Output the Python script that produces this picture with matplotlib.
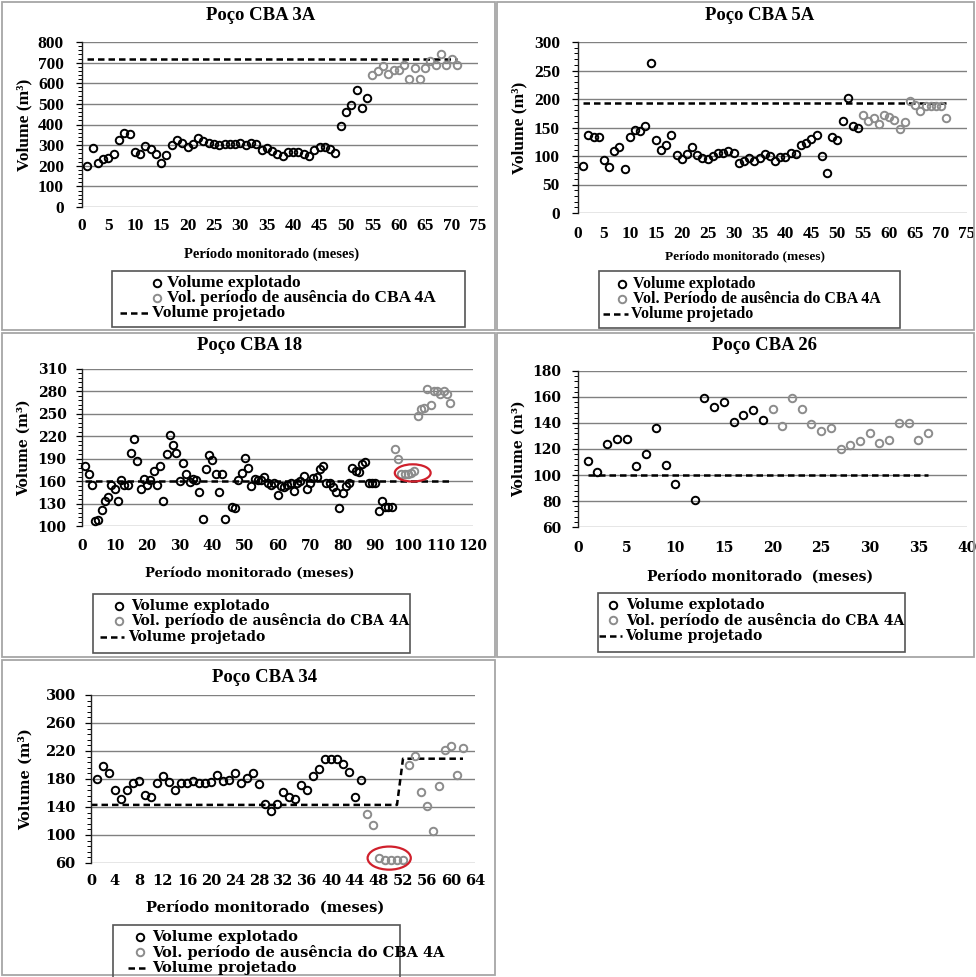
import matplotlib
matplotlib.use("Agg")
import matplotlib.pyplot as plt
from matplotlib.lines import Line2D
from matplotlib.patches import Rectangle, Ellipse
from matplotlib.ticker import FixedLocator, MultipleLocator, AutoMinorLocator

W, H = 976, 977

# ---- Poço CBA 3A ----
cba3a_months = list(range(1, 55))
cba3a_volume = [200, 288, 215, 234, 237, 258, 323, 359, 352, 267,
                258, 296, 279, 258, 215, 254, 302, 323, 310, 291,
                307, 336, 320, 312, 304, 299, 304, 307, 307, 310,
                299, 312, 307, 275, 288, 271, 255, 246, 267, 267,
                267, 258, 246, 275, 291, 291, 279, 262, 393, 460,
                493, 565, 481, 528]
cba3a_abs_months = list(range(55, 72))
cba3a_abs_volume = [641, 659, 682, 643, 666, 666, 690, 619, 675, 622,
                    675, 706, 687, 740, 687, 719, 687]
cba3a_proj_months = [1, 71]
cba3a_proj_volume = [720, 720]
cba3a_yticks = [0, 100, 200, 300, 400, 500, 600, 700, 800]
cba3a_xticks = [0, 5, 10, 15, 20, 25, 30, 35, 40, 45, 50, 55, 60, 65, 70, 75]

# ---- Poço CBA 5A ----
cba5a_months = list(range(1, 55))
cba5a_volume = [83, 137, 134, 133, 93, 80, 109, 115, 77, 134,
                146, 143, 153, 263, 128, 110, 119, 136, 102, 94,
                104, 116, 102, 97, 95, 100, 106, 105, 109, 106,
                87, 92, 97, 91, 96, 103, 100, 92, 99, 99,
                106, 103, 120, 123, 130, 136, 100, 71, 134, 128,
                162, 201, 153, 150]
cba5a_abs_months = list(range(55, 72))
cba5a_abs_volume = [172, 161, 166, 157, 172, 168, 164, 147, 160, 196,
                    190, 179, 187, 188, 188, 187, 167]
cba5a_proj_months = [1, 71]
cba5a_proj_volume = [193, 193]
cba5a_yticks = [0, 50, 100, 150, 200, 250, 300]
cba5a_xticks = [0, 5, 10, 15, 20, 25, 30, 35, 40, 45, 50, 55, 60, 65, 70, 75]

# ---- Poço CBA 18 ----
cba18_months = list(range(1, 45)) + list(range(46, 96))
cba18_volume = [180, 169, 155, 107, 108, 121, 134, 139, 155, 150,
                133, 161, 155, 155, 198, 216, 187, 149, 163, 155,
                161, 174, 155, 180, 134, 196, 222, 208, 198, 160,
                184, 170, 159, 163, 161, 146, 110, 176, 195, 188,
                169, 146, 170, 110,
                126, 124, 161, 171, 191, 177, 154, 163, 161, 162,
                166, 157, 155, 158, 142, 153, 152, 155, 158, 147,
                158, 160, 167, 149, 158, 164, 166, 176, 180, 158,
                158, 152, 146, 124, 144, 153, 157, 178, 174, 172,
                183, 186, 158, 158, 158, 120, 134, 125, 125, 125]
cba18_abs_months = list(range(96, 114))
cba18_abs_volume = [203, 189, 170, 170, 170, 171, 173, 247, 257, 258,
                    283, 262, 280, 281, 277, 280, 276, 265]
cba18_proj_months = [1, 113]
cba18_proj_volume = [160, 160]
cba18_yticks = [100, 130, 160, 190, 220, 250, 280, 310]
cba18_xticks = [0, 10, 20, 30, 40, 50, 60, 70, 80, 90, 100, 110, 120]

# ---- Poço CBA 26 ----
cba26_months = [1, 2, 3, 4, 5, 6, 7, 8, 9, 10, 12, 13, 14, 15, 16, 17, 18, 19]
cba26_volume = [111, 102, 124, 128, 128, 107, 116, 136, 108, 93,
                81, 159, 152, 156, 141, 146, 150, 142]
cba26_abs_months = list(range(20, 37))
cba26_abs_volume = [151, 138, 159, 151, 139, 134, 136, 120, 123, 126,
                    132, 125, 127, 140, 140, 127, 132]
cba26_proj_months = [1, 36]
cba26_proj_volume = [100, 100]
cba26_yticks = [60, 80, 100, 120, 140, 160, 180]
cba26_xticks = [0, 5, 10, 15, 20, 25, 30, 35, 40]

# ---- Poço CBA 34 ----
cba34_months = list(range(1, 46))
cba34_volume = [180, 198, 189, 165, 151, 165, 175, 177, 157, 154,
                174, 185, 176, 165, 174, 174, 177, 175, 175, 176,
                186, 177, 178, 188, 174, 182, 189, 173, 145, 135,
                145, 161, 154, 152, 172, 165, 185, 195, 208, 209,
                208, 202, 190, 154, 178]
cba34_abs_months = list(range(46, 63))
cba34_abs_volume = [130, 114, 67, 65, 65, 65, 65, 200, 213, 161,
                    141, 106, 170, 222, 227, 186, 224]
cba34_proj_months = [0, 51, 52, 62]
cba34_proj_volume = [143, 143, 209, 209]
cba34_yticks = [60, 100, 140, 180, 220, 260, 300]
cba34_xticks = [0, 4, 8, 12, 16, 20, 24, 28, 32, 36, 40, 44, 48, 52, 56, 60, 64]

XLABEL_1 = "Período monitorado (meses)"
XLABEL_2 = "Período monitorado  (meses)"
YLABEL = "Volume (m³)"
LEG_EXP = "Volume explotado"
LEG_ABS = "Vol. período de ausência do CBA 4A"
LEG_ABS_CAP = "Vol. Período de ausência do CBA 4A"
LEG_PROJ = "Volume projetado"

TIMES = ["Liberation Serif", "DejaVu Serif"]
WIDE = ["DejaVu Serif"]

plt.rcParams["font.family"] = TIMES
plt.rcParams["font.weight"] = "bold"

GRAY = "#8c8c8c"
GRID = "#808080"
FRAME = "#a6a6a6"
DASH = (0, (2.6, 1.6))

fig = plt.figure(figsize=(W / 100, H / 100), dpi=100)


def fx(x):
    return x / W


def fy(y):
    return 1 - y / H


def ftext(x, y, s, **kw):
    fig.text(fx(x), fy(y), s, fontweight="bold", **kw)


panels = [
    dict(title="Poço CBA 3A", frame=(2, 2, 495, 330), plot=(82, 42, 478, 207),
         xticks=cba3a_xticks, yticks=cba3a_yticks,
         exp=(cba3a_months, cba3a_volume), abs=(cba3a_abs_months, cba3a_abs_volume),
         proj=(cba3a_proj_months, cba3a_proj_volume),
         font=TIMES, tsize=12.5, title_xy=(261, 16), ylab_x=24, xlab=XLABEL_1,
         xlab_xy=(272, 254), xlab_size=10.5, xpad=8, ypad=9,
         leg_box=(112, 271, 465, 327), leg_rows=(283, 298, 313), leg_mx=157,
         leg_tx=167, leg_dash=(120, 148), leg_dtx=152, leg_size=12.5, leg_abs=LEG_ABS,
         ellipse=None),
    dict(title="Poço CBA 5A", frame=(497, 2, 974, 330), plot=(578, 42, 967, 213),
         xticks=cba5a_xticks, yticks=cba5a_yticks,
         exp=(cba5a_months, cba5a_volume), abs=(cba5a_abs_months, cba5a_abs_volume),
         proj=(cba5a_proj_months, cba5a_proj_volume),
         font=TIMES, tsize=12.5, title_xy=(760, 16), ylab_x=519, xlab=XLABEL_1,
         xlab_xy=(745, 256), xlab_size=9.5, xpad=9, ypad=9,
         leg_box=(599, 271, 900, 328), leg_rows=(284, 299, 314), leg_mx=622,
         leg_tx=633, leg_dash=(603, 628), leg_dtx=631, leg_size=11.5, leg_abs=LEG_ABS_CAP,
         ellipse=None),
    dict(title="Poço CBA 18", frame=(2, 333, 495, 657), plot=(82, 369, 473, 526),
         xticks=cba18_xticks, yticks=cba18_yticks,
         exp=(cba18_months, cba18_volume), abs=(cba18_abs_months, cba18_abs_volume),
         proj=(cba18_proj_months, cba18_proj_volume),
         font=WIDE, tsize=10, title_xy=(250, 345), ylab_x=24, xlab=XLABEL_1,
         xlab_xy=(250, 573), xlab_size=9.5, xpad=9, ypad=7,
         leg_box=(93, 594, 410, 653), leg_rows=(606, 621, 637), leg_mx=119,
         leg_tx=131, leg_dash=(100, 124), leg_dtx=128, leg_size=10, leg_abs=LEG_ABS,
         ellipse=(101.5, 171, 11, 23)),
    dict(title="Poço CBA 26", frame=(497, 333, 974, 657), plot=(578, 371, 967, 527),
         xticks=cba26_xticks, yticks=cba26_yticks,
         exp=(cba26_months, cba26_volume), abs=(cba26_abs_months, cba26_abs_volume),
         proj=(cba26_proj_months, cba26_proj_volume),
         font=WIDE, tsize=10, title_xy=(765, 345), ylab_x=519, xlab=XLABEL_2,
         xlab_xy=(760, 577), xlab_size=10, xpad=10, ypad=8,
         leg_box=(598, 593, 905, 652), leg_rows=(605, 620, 636), leg_mx=613,
         leg_tx=626, leg_dash=(599, 622), leg_dtx=625, leg_size=10, leg_abs=LEG_ABS,
         ellipse=None),
    dict(title="Poço CBA 34", frame=(2, 660, 495, 975), plot=(91, 695, 475, 863),
         xticks=cba34_xticks, yticks=cba34_yticks,
         exp=(cba34_months, cba34_volume), abs=(cba34_abs_months, cba34_abs_volume),
         proj=(cba34_proj_months, cba34_proj_volume),
         font=WIDE, tsize=10.5, title_xy=(265, 678), ylab_x=26, xlab=XLABEL_2,
         xlab_xy=(265, 907), xlab_size=10.5, xpad=8, ypad=7,
         leg_box=(113, 925, 400, 990), leg_rows=(937, 952, 968), leg_mx=140,
         leg_tx=152, leg_dash=(128, 147), leg_dtx=152, leg_size=10.5, leg_abs=LEG_ABS,
         ellipse=(49.7, 67, 7.2, 33)),
]

MS, MEW = 5.4, 1.4

for p in panels:
    fl, ft, fr, fb = p["frame"]
    fig.add_artist(Rectangle((fx(fl), fy(fb)), (fr - fl) / W, (fb - ft) / H,
                             transform=fig.transFigure, fill=False, ec=FRAME, lw=1.3))

    l, t, r, b = p["plot"]
    ax = fig.add_axes([fx(l), fy(b), (r - l) / W, (b - t) / H])
    xt, yt = p["xticks"], p["yticks"]
    ax.set_xlim(xt[0], xt[-1])
    ax.set_ylim(yt[0], yt[-1])
    ax.xaxis.set_major_locator(FixedLocator(xt))
    ax.yaxis.set_major_locator(FixedLocator(yt))
    ax.yaxis.set_minor_locator(AutoMinorLocator(5))
    ax.grid(axis="y", which="major", color=GRID, lw=1.0)
    ax.set_axisbelow(True)
    for s in ("top", "right", "bottom"):
        ax.spines[s].set_visible(False)
    ax.spines["left"].set_color("#222222")
    ax.spines["left"].set_linewidth(1.0)
    ax.tick_params(axis="x", length=0, pad=p["xpad"])
    ax.tick_params(axis="y", which="major", length=4, width=0.9, pad=p["ypad"])
    ax.tick_params(axis="y", which="minor", length=3, width=0.7)
    for lab in ax.get_xticklabels() + ax.get_yticklabels():
        lab.set_family(p["font"])
        lab.set_fontweight("bold")
        lab.set_fontsize(p["tsize"])

    ax.plot(p["proj"][0], p["proj"][1], color="black", lw=1.8,
            linestyle=DASH, zorder=2)
    ax.plot(p["exp"][0], p["exp"][1], "o", ms=MS, mfc="none", mec="black",
            mew=MEW, zorder=3, clip_on=False)
    ax.plot(p["abs"][0], p["abs"][1], "o", ms=MS, mfc="none", mec=GRAY,
            mew=MEW, zorder=3, clip_on=False)
    if p["ellipse"] is not None:
        ex, ey, ew, eh = p["ellipse"]
        ax.add_patch(Ellipse((ex, ey), ew, eh, fill=False, ec="#d0202c",
                             lw=1.6, zorder=4, clip_on=False))

    ftext(p["title_xy"][0], p["title_xy"][1], p["title"], ha="center",
          va="center", fontsize=13.5, family=TIMES)
    ftext(p["ylab_x"], (t + b) / 2, YLABEL, ha="center", va="center",
          rotation=90, fontsize=p["tsize"], family=p["font"])
    ftext(p["xlab_xy"][0], p["xlab_xy"][1], p["xlab"], ha="center",
          va="center", fontsize=p["xlab_size"], family=p["font"])

    # legend box drawn by hand
    bl, bt, br, bb = p["leg_box"]
    fig.add_artist(Rectangle((fx(bl), fy(bb)), (br - bl) / W, (bb - bt) / H,
                             transform=fig.transFigure, fill=False,
                             ec="#555555", lw=1.2))
    r1, r2, r3 = p["leg_rows"]
    mx = p["leg_mx"]
    fig.add_artist(Line2D([fx(mx)], [fy(r1)], marker="o", ms=MS, mfc="none",
                          mec="black", mew=MEW, transform=fig.transFigure))
    fig.add_artist(Line2D([fx(mx)], [fy(r2)], marker="o", ms=MS, mfc="none",
                          mec=GRAY, mew=MEW, transform=fig.transFigure))
    d0, d1 = p["leg_dash"]
    fig.add_artist(Line2D([fx(d0), fx(d1)], [fy(r3), fy(r3)], color="black",
                          lw=1.8, linestyle=DASH, transform=fig.transFigure))
    ftext(p["leg_tx"], r1, LEG_EXP, ha="left", va="center",
          fontsize=p["leg_size"], family=p["font"])
    ftext(p["leg_tx"], r2, p["leg_abs"], ha="left", va="center",
          fontsize=p["leg_size"], family=p["font"])
    ftext(p["leg_dtx"], r3, LEG_PROJ, ha="left", va="center",
          fontsize=p["leg_size"], family=p["font"])

fig.savefig("out.png", dpi=100)
